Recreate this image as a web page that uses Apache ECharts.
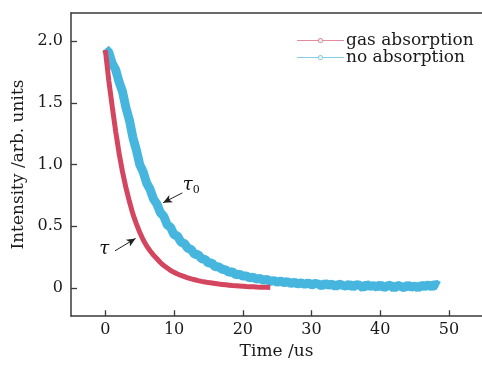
<!DOCTYPE html>
<html>
<head>
<meta charset="utf-8">
<script src="https://cdn.jsdelivr.net/npm/echarts@6/dist/echarts.min.js"></script>
<style>html,body{margin:0;padding:0;background:#fff;}#c{width:482px;height:365px;}</style>
</head>
<body>
<div id="c"></div>
<script>
// sampling step of both traces (us)
const sampleStep = 0.5;
// gas absorption trace (t = 0 .. 24 us)
const gasValues = [
  1.93,1.68,1.47,1.27,1.09,0.94,0.81,0.70,0.60,0.52,
  0.45,0.39,0.34,0.30,0.265,0.235,0.205,0.18,0.16,0.14,
  0.125,0.112,0.10,0.09,0.08,0.072,0.065,0.058,0.052,0.047,
  0.042,0.038,0.034,0.03,0.027,0.024,0.021,0.018,0.016,0.014,
  0.012,0.01,0.009,0.008,0.006,0.005,0.004,0.004,0.003
];
// no absorption trace (t = 0 .. 48.5 us)
const noAbsValues = [
  1.94,1.91,1.82,1.77,1.67,1.59,1.46,1.36,1.22,1.12,
  1.00,0.94,0.85,0.80,0.72,0.68,0.61,0.58,0.51,0.49,
  0.43,0.42,0.37,0.36,0.32,0.31,0.27,0.27,0.235,0.23,
  0.20,0.20,0.17,0.17,0.15,0.145,0.125,0.13,0.105,0.11,
  0.095,0.095,0.08,0.085,0.07,0.075,0.06,0.07,0.05,0.06,
  0.045,0.055,0.04,0.05,0.035,0.045,0.03,0.04,0.028,0.04,
  0.022,0.035,0.03,0.015,0.035,0.02,0.03,0.01,0.03,0.02,
  0.012,0.03,0.005,0.025,0.02,0.0,0.028,0.01,0.018,0.005,
  0.025,0.0,0.015,0.02,-0.005,0.02,0.01,0.0,0.022,0.005,
  0.015,0.0,0.02,0.01,0.025,0.005,0.03,0.015
];
const seriesNames = ['gas absorption', 'no absorption'];
const xTicks = [0, 10, 20, 30, 40, 50];
const yTicks = [0, 0.5, 1.0, 1.5, 2.0];
// annotation arrows [from, to] in data coords, and labels
const tauArrow = [[1.4, 0.30], [4.4, 0.40]];
const tau0Arrow = [[11.2, 0.77], [8.4, 0.69]];
const tauLabelPos = [-0.15, 0.31];
const tau0LabelPos = [12.5, 0.83];

const X_MIN = -5, X_MAX = 54.8, Y_MIN = -0.23, Y_MAX = 2.23;
const toPairs = vals => vals.map((v, i) => [i * sampleStep, v]);

const FONT = '"DejaVu Serif", serif';
const AX = '#3a3a3a';
const RED = '#d4465f';
const BLUE = '#47b6df';
// plot area size in px (from grid) and tick length as a fraction of it
const PLOT_W = 482 - 71, PLOT_H = 365 - 13 - 41, TICK_PX = 6;
const tickDy = (Y_MAX - Y_MIN) * TICK_PX / PLOT_H;
const tickDx = (X_MAX - X_MIN) * TICK_PX / PLOT_W;
const tickStyle = {color: AX, width: 1.3, type: 'solid'};
const tickLines = [
  ...xTicks.map(v => [
    {coord: [v, Y_MIN], symbol: 'none', lineStyle: tickStyle},
    {coord: [v, Y_MIN + tickDy], symbol: 'none'}]),
  ...yTicks.map(v => [
    {coord: [X_MIN, v], symbol: 'none', lineStyle: tickStyle},
    {coord: [X_MIN + tickDx, v], symbol: 'none'}])
];
// legend icon: thin line with a small hollow circle in the middle
const LEG_ICON = 'path://M0,2L21,2L21,3L0,3Z M26,2L47,2L47,3L26,3Z ' +
  'M21,2.5A2.5,2.5 0 0 1 26,2.5A2.5,2.5 0 0 1 21,2.5Z ' +
  'M22,2.5A1.5,1.5 0 0 0 25,2.5A1.5,1.5 0 0 0 22,2.5Z';

const chart = echarts.init(document.getElementById('c'), null, {renderer: 'canvas'});
const labelOpt = {
  show: true, color: '#111', fontFamily: FONT,
  rich: {
    t: {fontFamily: FONT, fontStyle: 'italic', fontSize: 18, color: '#111'},
    s: {fontFamily: FONT, fontSize: 11, color: '#111', padding: [10, 0, 0, 0]}
  }
};
chart.setOption({
  animation: false,
  backgroundColor: '#fff',
  grid: {left: 71, right: 0, top: 13, bottom: 41},
  legend: {
    orient: 'vertical', left: 292, top: 27, itemWidth: 47, itemHeight: 5, itemGap: 0,
    textStyle: {fontFamily: FONT, fontSize: 17, lineHeight: 17, color: '#1a1a1a', padding: [0, 0, 0, -3]},
    data: [
      {name: seriesNames[0], icon: LEG_ICON, itemStyle: {color: '#e38b9c'}},
      {name: seriesNames[1], icon: LEG_ICON, itemStyle: {color: '#86cdea'}}
    ]
  },
  xAxis: [{
    type: 'value', min: X_MIN, max: X_MAX, position: 'bottom', splitNumber: 5,
    name: 'Time /us', nameLocation: 'middle', nameGap: 22,
    nameTextStyle: {fontFamily: FONT, fontSize: 17, color: '#1a1a1a'},
    axisLine: {show: true, onZero: false, lineStyle: {color: AX, width: 1.5}},
    axisTick: {show: false},
    axisLabel: {show: true, margin: 6, fontFamily: FONT, fontSize: 16, color: '#1a1a1a',
      showMinLabel: false, showMaxLabel: false,
      formatter: v => (Math.abs(v % 10) < 1e-9 ? String(v) : '')},
    splitLine: {show: false}
  }, {
    type: 'value', min: X_MIN, max: X_MAX, position: 'top',
    axisLine: {show: true, onZero: false, lineStyle: {color: AX, width: 1.5}},
    axisTick: {show: false}, axisLabel: {show: false}, splitLine: {show: false}
  }],
  yAxis: {
    type: 'value', min: Y_MIN, max: Y_MAX, splitNumber: 5,
    name: 'Intensity /arb. units', nameLocation: 'middle', nameGap: 42,
    nameTextStyle: {fontFamily: FONT, fontSize: 17, color: '#1a1a1a'},
    axisLine: {show: true, onZero: false, lineStyle: {color: AX, width: 1.5}},
    axisTick: {show: false},
    axisLabel: {show: true, margin: 8, fontFamily: FONT, fontSize: 16, color: '#1a1a1a',
      showMinLabel: false, showMaxLabel: false,
      formatter: v => {
        if (Math.abs(v * 2 - Math.round(v * 2)) > 1e-9) return '';
        return Math.abs(v) < 1e-9 ? '0' : v.toFixed(1);
      }},
    splitLine: {show: false}
  },
  series: [{
    name: seriesNames[0], type: 'line', data: toPairs(gasValues),
    symbol: 'none', showSymbol: false,
    itemStyle: {color: RED},
    lineStyle: {color: RED, width: 5}, z: 3,
    markLine: {
      silent: true, symbol: ['none', 'arrow'], symbolSize: [6, 9],
      lineStyle: {color: '#222', width: 1, type: 'solid'}, label: {show: false},
      data: [[{coord: tauArrow[0]}, {coord: tauArrow[1]}]].concat(tickLines)
    },
    markPoint: {
      silent: true, symbol: 'circle', symbolSize: 1, itemStyle: {color: 'rgba(0,0,0,0)'},
      label: Object.assign({}, labelOpt, {position: 'inside', formatter: '{t|τ}'}),
      data: [{coord: tauLabelPos}]
    }
  }, {
    name: seriesNames[1], type: 'line', data: toPairs(noAbsValues),
    symbol: 'none', showSymbol: false,
    itemStyle: {color: BLUE},
    lineStyle: {color: BLUE, width: 9}, z: 2,
    markLine: {
      silent: true, symbol: ['none', 'arrow'], symbolSize: [6, 9],
      lineStyle: {color: '#222', width: 1, type: 'solid'}, label: {show: false},
      data: [[{coord: tau0Arrow[0]}, {coord: tau0Arrow[1]}]]
    },
    markPoint: {
      silent: true, symbol: 'circle', symbolSize: 1, itemStyle: {color: 'rgba(0,0,0,0)'},
      label: Object.assign({}, labelOpt, {position: 'inside', formatter: '{t|τ}{s|0}'}),
      data: [{coord: tau0LabelPos}]
    }
  }]
});
</script>
</body>
</html>
